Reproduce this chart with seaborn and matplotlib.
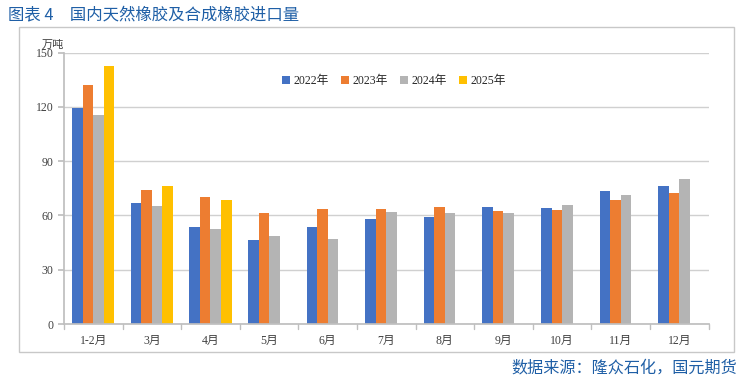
import matplotlib
matplotlib.use('Agg')
import matplotlib.pyplot as plt
import seaborn as sns
import pandas as pd
from matplotlib.patches import Rectangle

months = ['1-2月', '3月', '4月', '5月', '6月', '7月', '8月', '9月', '10月', '11月', '12月']
years = ['2022年', '2023年', '2024年', '2025年']
y2022 = [119.1, 66.7, 53.5, 46.3, 53.5, 57.9, 59.2, 64.9, 64.0, 73.4, 76.1]
y2023 = [131.8, 73.9, 70.0, 61.2, 63.4, 63.4, 64.5, 62.5, 62.9, 68.4, 72.3]
y2024 = [115.3, 65.1, 52.4, 48.5, 46.9, 61.8, 61.4, 61.2, 65.6, 71.2, 80.4]
y2025 = [142.3, 76.1, 68.4]
colors = ['#4472C4', '#ED7D31', '#B4B4B4', '#FFC000']
yticks = [0, 30, 60, 90, 120, 150]

rows = []
for yr, vals in zip(years, [y2022, y2023, y2024, y2025]):
    for m, v in zip(months, vals):
        rows.append({'month': m, 'year': yr, 'value': v})
df = pd.DataFrame(rows)

sns.set_theme(style='white')
plt.rcParams['font.family'] = ['Liberation Serif', 'Noto Sans CJK SC']

fig = plt.figure(figsize=(7.46, 3.89), dpi=100)
ax = fig.add_axes([0.0858, 0.167, 0.864, 0.698])

sns.barplot(data=df, x='month', y='value', hue='year', order=months, hue_order=years,
            palette=colors, width=0.72, gap=0, linewidth=0, saturation=1, ax=ax)

ax.set_ylim(0, 150)
ax.set_yticks(yticks)
ax.set_xlim(-0.5, len(months) - 0.5)
ax.yaxis.grid(True, color='#D0D0D0', linewidth=1)
ax.set_axisbelow(True)
ax.set_xlabel('')
ax.set_ylabel('')
for s in ['top', 'right']:
    ax.spines[s].set_visible(False)
ax.spines['left'].set_color('#BFBFBF')
ax.spines['bottom'].set_color('#BFBFBF')
ax.tick_params(axis='y', length=4, color='#BFBFBF', labelsize=8.5, colors='#404040', left=True)
ax.tick_params(axis='x', length=0, labelsize=8.5, colors='#404040', pad=8)
for i in range(len(months) + 1):
    ax.plot([i - 0.5, i - 0.5], [0, -2.5], color='#BFBFBF', lw=1, clip_on=False)

leg = ax.legend(loc='upper center', bbox_to_anchor=(0.512, 0.955), ncol=4, frameon=False,
                fontsize=8.5, handlelength=0.7, handleheight=0.7, handletextpad=0.3,
                columnspacing=1.0)

fig.text(0.056, 0.877, '万吨', fontsize=8, color='#404040',
         family=['Noto Sans CJK SC', 'DejaVu Sans'])

fig.text(0.011, 0.963, '图表 4\u3000国内天然橡胶及合成橡胶进口量', fontsize=11.8,
         color='#1F5FA6', va='center', family=['Noto Sans CJK SC', 'DejaVu Sans'])
fig.text(0.988, 0.055, '数据来源：隆众石化，国元期货', fontsize=11.6, color='#1F5FA6',
         ha='right', va='center', family=['Noto Sans CJK SC', 'DejaVu Sans'])

fig.patches.append(Rectangle((19 / 746, 1 - 352 / 389), 715 / 746, 325 / 389,
                             transform=fig.transFigure, fill=False,
                             edgecolor='#C8C8C8', linewidth=1))

fig.savefig('out.png', dpi=100)
